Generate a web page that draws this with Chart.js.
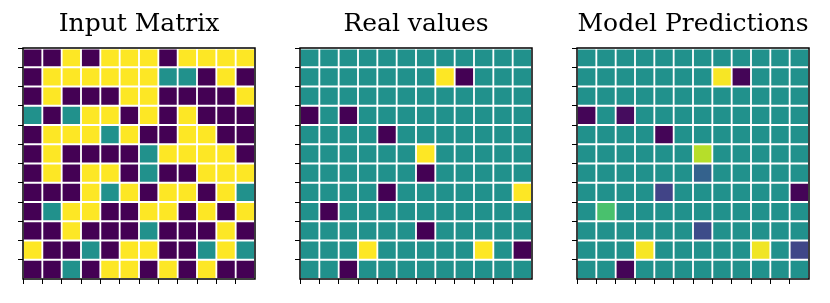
<!DOCTYPE html>
<html>
<head>
<meta charset="utf-8">
<script src="https://cdn.jsdelivr.net/npm/chart.js@4.4.0/dist/chart.umd.min.js"></script>
<style>
  body { margin: 0; background: #fff; }
  .panel { position: absolute; top: 0; width: 276px; height: 303px; }
</style>
</head>
<body>
<div class="panel" style="left:0px"><canvas id="inputChart"></canvas></div>
<div class="panel" style="left:277px"><canvas id="realChart"></canvas></div>
<div class="panel" style="left:554px"><canvas id="predChart"></canvas></div>
<script>
// Grid data (0 = purple, 0.5 = teal, 1 = yellow on viridis)
const titles = ["Input Matrix", "Real values", "Model Predictions"];
const tickPositions = [0, 1, 2, 3, 4, 5, 6, 7, 8, 9, 10, 11];

const inputMatrix = [
  [0, 0, 1, 0, 1, 1, 1, 0, 1, 1, 1, 1],
  [0, 1, 1, 1, 1, 1, 1, 0.5, 0.5, 0, 1, 0],
  [0, 1, 0, 0, 0, 1, 1, 0, 0, 0, 0, 1],
  [0.5, 0, 0.5, 1, 1, 0, 1, 0, 1, 0, 0, 0],
  [0, 1, 1, 1, 0.5, 1, 0, 0, 1, 1, 0, 0],
  [0, 1, 0, 0, 0, 0, 0.5, 1, 1, 1, 1, 0],
  [0, 1, 0, 1, 1, 0, 0.5, 0, 0, 1, 1, 1],
  [0, 0, 0, 1, 0.5, 1, 0, 1, 1, 0, 1, 0.5],
  [0, 0.5, 1, 1, 0, 0, 1, 1, 0, 1, 0, 1],
  [0, 0, 1, 0, 0, 0, 0.5, 0, 0, 0, 1, 0],
  [1, 0, 0, 0.5, 0, 1, 1, 0, 0, 0.5, 1, 0.5],
  [0, 0, 0.5, 0, 1, 1, 0, 1, 0, 1, 0, 0],
];

const realValues = [
  [0.5, 0.5, 0.5, 0.5, 0.5, 0.5, 0.5, 0.5, 0.5, 0.5, 0.5, 0.5],
  [0.5, 0.5, 0.5, 0.5, 0.5, 0.5, 0.5, 1, 0, 0.5, 0.5, 0.5],
  [0.5, 0.5, 0.5, 0.5, 0.5, 0.5, 0.5, 0.5, 0.5, 0.5, 0.5, 0.5],
  [0, 0.5, 0, 0.5, 0.5, 0.5, 0.5, 0.5, 0.5, 0.5, 0.5, 0.5],
  [0.5, 0.5, 0.5, 0.5, 0, 0.5, 0.5, 0.5, 0.5, 0.5, 0.5, 0.5],
  [0.5, 0.5, 0.5, 0.5, 0.5, 0.5, 1, 0.5, 0.5, 0.5, 0.5, 0.5],
  [0.5, 0.5, 0.5, 0.5, 0.5, 0.5, 0, 0.5, 0.5, 0.5, 0.5, 0.5],
  [0.5, 0.5, 0.5, 0.5, 0, 0.5, 0.5, 0.5, 0.5, 0.5, 0.5, 1],
  [0.5, 0, 0.5, 0.5, 0.5, 0.5, 0.5, 0.5, 0.5, 0.5, 0.5, 0.5],
  [0.5, 0.5, 0.5, 0.5, 0.5, 0.5, 0, 0.5, 0.5, 0.5, 0.5, 0.5],
  [0.5, 0.5, 0.5, 1, 0.5, 0.5, 0.5, 0.5, 0.5, 1, 0.5, 0],
  [0.5, 0.5, 0, 0.5, 0.5, 0.5, 0.5, 0.5, 0.5, 0.5, 0.5, 0.5],
];

const predictions = [
  [0.5, 0.5, 0.5, 0.5, 0.5, 0.5, 0.5, 0.5, 0.5, 0.5, 0.5, 0.5],
  [0.5, 0.5, 0.5, 0.5, 0.5, 0.5, 0.5, 0.99, 0.01, 0.5, 0.5, 0.5],
  [0.5, 0.5, 0.5, 0.5, 0.5, 0.5, 0.5, 0.5, 0.5, 0.5, 0.5, 0.5],
  [0.01, 0.5, 0.03, 0.5, 0.5, 0.5, 0.5, 0.5, 0.5, 0.5, 0.5, 0.5],
  [0.5, 0.5, 0.5, 0.5, 0.01, 0.5, 0.5, 0.5, 0.5, 0.5, 0.5, 0.5],
  [0.5, 0.5, 0.5, 0.5, 0.5, 0.5, 0.89, 0.5, 0.5, 0.5, 0.5, 0.5],
  [0.5, 0.5, 0.5, 0.5, 0.5, 0.5, 0.31, 0.5, 0.5, 0.5, 0.5, 0.5],
  [0.5, 0.5, 0.5, 0.5, 0.2, 0.5, 0.5, 0.5, 0.5, 0.5, 0.5, 0.01],
  [0.5, 0.71, 0.5, 0.5, 0.5, 0.5, 0.5, 0.5, 0.5, 0.5, 0.5, 0.5],
  [0.5, 0.5, 0.5, 0.5, 0.5, 0.5, 0.23, 0.5, 0.5, 0.5, 0.5, 0.5],
  [0.5, 0.5, 0.5, 0.99, 0.5, 0.5, 0.5, 0.5, 0.5, 0.98, 0.5, 0.21],
  [0.5, 0.5, 0.01, 0.5, 0.5, 0.5, 0.5, 0.5, 0.5, 0.5, 0.5, 0.5],
];

// viridis colormap stops
const viridisStops = ["#440154", "#482475", "#414487", "#355f8d", "#2a788e", "#21918c",
  "#22a884", "#44bf70", "#7ad151", "#bddf26", "#fde725"];

function hexToRgb(h) {
  return [1, 3, 5].map(i => parseInt(h.slice(i, i + 2), 16));
}

function viridis(v) {
  const t = Math.max(0, Math.min(1, v)) * (viridisStops.length - 1);
  const i = Math.min(Math.floor(t), viridisStops.length - 2);
  const f = t - i;
  const a = hexToRgb(viridisStops[i]), b = hexToRgb(viridisStops[i + 1]);
  const c = a.map((x, k) => Math.round(x + (b[k] - x) * f));
  return `rgb(${c[0]}, ${c[1]}, ${c[2]})`;
}

// Draws the four black spines around the plot area
const spinePlugin = {
  id: "spines",
  afterDatasetsDraw(chart) {
    const { ctx, chartArea: a } = chart;
    ctx.save();
    ctx.strokeStyle = "#000";
    ctx.lineWidth = 1.5;
    ctx.strokeRect(a.left, a.top, a.right - a.left, a.bottom - a.top);
    ctx.restore();
  }
};

// One floating-bar dataset per row, one bar per cell
function buildDatasets(matrix) {
  return matrix.map((row, i) => ({
    data: row.map((v, j) => ({ x: j + 0.5, y: [i, i + 1] })),
    backgroundColor: row.map(v => viridis(v)),
    borderColor: "#ffffff",
    borderWidth: 1.25,
    borderSkipped: false,
    grouped: false,
    barPercentage: 1,
    categoryPercentage: 1,
  }));
}

function axisOptions(fitKey) {
  return {
    type: "linear",
    min: 0,
    max: 12,
    offset: false,
    border: { display: false },
    grid: {
      offset: false,
      drawOnChartArea: false,
      drawTicks: true,
      tickLength: 5,
      color: "#000",
      tickColor: "#000",
      tickWidth: 1,
    },
    ticks: { display: false },
    afterBuildTicks: scale => {
      scale.ticks = tickPositions.map(v => ({ value: v }));
    },
    afterFit: scale => {
      scale[fitKey] = 5;
    },
  };
}

function renderMatrix(canvasId, title, matrix) {
  const ctx = document.getElementById(canvasId).getContext("2d");
  const yAxis = axisOptions("width");
  yAxis.reverse = true;

  new Chart(ctx, {
    type: "bar",
    data: { datasets: buildDatasets(matrix) },
    options: {
      responsive: true,
      maintainAspectRatio: false,
      animation: false,
      layout: { padding: { left: 18, right: 21, top: 9, bottom: 19 } },
      plugins: {
        legend: { display: false },
        tooltip: { enabled: false },
        title: {
          display: true,
          text: title,
          fullSize: false,
          color: "#000",
          font: { family: "DejaVu Serif", size: 25, weight: "normal" },
          padding: { top: 0, bottom: 9 },
        },
      },
      scales: {
        x: axisOptions("height"),
        y: yAxis,
      },
    },
    plugins: [spinePlugin],
  });
}

document.addEventListener("DOMContentLoaded", () => {
  renderMatrix("inputChart", titles[0], inputMatrix);
  renderMatrix("realChart", titles[1], realValues);
  renderMatrix("predChart", titles[2], predictions);
});
</script>
</body>
</html>
